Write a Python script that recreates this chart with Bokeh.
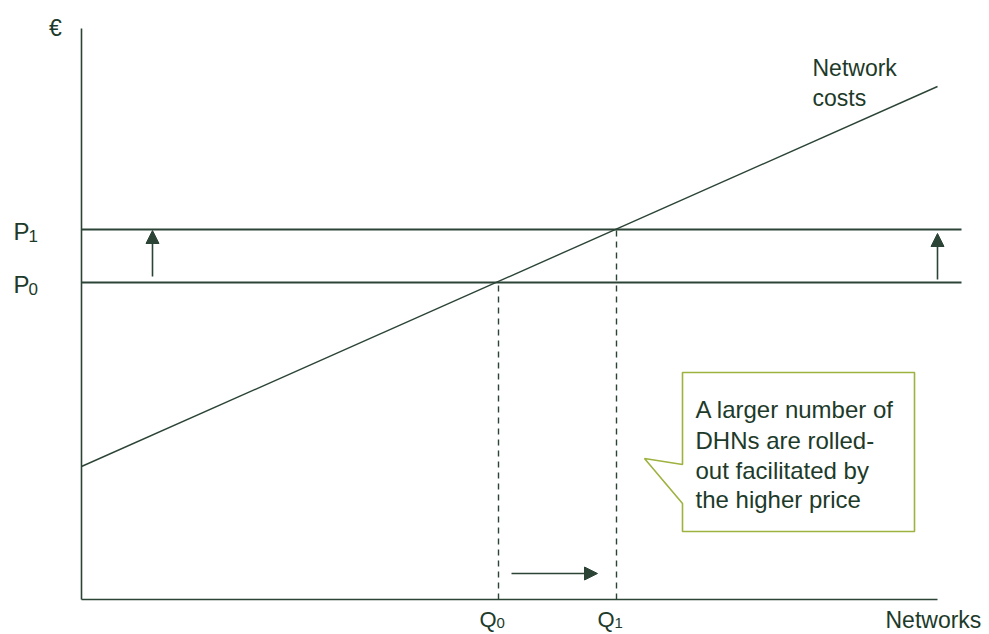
from bokeh.plotting import figure
from bokeh.models import Range1d, Arrow, NormalHead
from bokeh.core.properties import value
from bokeh.embed import file_html
from bokeh.resources import INLINE

# ---- data (conceptual units: origin at axes corner) ----
x_max = 856            # end of x axis
y_max = 571            # top of y axis
line_end = 880         # right end of price lines
cost_x = [0, 856]      # network costs curve
cost_y = [133, 513]
p_levels = [317, 370]  # P0, P1
p_labels = ["0", "1"]
q_levels = [417, 535]  # Q0, Q1
q_labels = ["0", "1"]
up_arrow_x = [71, 856]
up_arrow_y0 = [323, 320]
up_arrow_y1 = [369, 366]
right_arrow = (430, 516, 26)  # x0, x1, y
callout_x = [601, 833, 833, 601, 601, 563, 601]
callout_y = [227, 227, 68, 68, 96, 141, 135]
callout_lines = ["A larger number of", "DHNs are rolled-", "out facilitated by", "the higher price"]
callout_base = [190, 159, 129, 100]

LINE = "#2b4436"
TEXT = "#1d3a2a"
BOX = "#9db23f"
FONT = value("Liberation Sans")

p = figure(width=989, height=634, x_range=Range1d(-81, 908), y_range=Range1d(-35, 599),
           min_border=0, x_axis_location=None, y_axis_location=None,
           toolbar_location=None, output_backend="svg")
p.grid.visible = False
p.outline_line_color = None
p.background_fill_color = "white"

# axes
p.line([0, 0], [0, y_max], line_color=LINE, line_width=1.6)
p.line([0, x_max], [0, 0], line_color=LINE, line_width=1.6)

# price lines
for pl in p_levels:
    p.line([0, line_end], [pl, pl], line_color=LINE, line_width=1.8)

# network cost line
p.line(cost_x, cost_y, line_color=LINE, line_width=1.4)

# dashed quantity lines
for ql, pl in zip(q_levels, p_levels):
    p.line([ql, ql], [0, pl], line_color=LINE, line_width=1.4, line_dash="6 5")

# arrows
for ax, a0, a1 in zip(up_arrow_x, up_arrow_y0, up_arrow_y1):
    p.add_layout(Arrow(end=NormalHead(size=13, fill_color=LINE, line_color=LINE),
                       x_start=ax, y_start=a0, x_end=ax, y_end=a1,
                       line_color=LINE, line_width=1.6))
rx0, rx1, ry = right_arrow
p.add_layout(Arrow(end=NormalHead(size=13, fill_color=LINE, line_color=LINE),
                   x_start=rx0, y_start=ry, x_end=rx1, y_end=ry,
                   line_color=LINE, line_width=1.6))

# callout
p.patch(callout_x, callout_y, fill_color="white", line_color=BOX, line_width=1.6)
p.text(x=[614] * 4, y=callout_base, text=callout_lines, text_font=FONT,
       text_font_size="24px", text_color=TEXT, text_baseline="alphabetic")

# labels
p.text(x=[731, 731], y=[532, 502], text=["Network", "costs"], text_font=FONT,
       text_font_size="23px", text_color=TEXT, text_baseline="alphabetic")
p.text(x=[-26], y=[572], text=["€"], text_font=FONT, text_font_size="23px",
       text_color=TEXT, text_align="center", text_baseline="middle")
p.text(x=[-68, -68], y=[pl - 2 for pl in p_levels], text=["P", "P"], text_font=FONT,
       text_font_size="24px", text_color=TEXT, text_baseline="alphabetic")
p.text(x=[-53, -53], y=[pl - 6 for pl in p_levels], text=p_labels, text_font=FONT,
       text_font_size="17px", text_color=TEXT, text_baseline="alphabetic")
p.text(x=[q - 19 for q in q_levels], y=[-20, -20], text=["Q", "Q"], text_font=FONT,
       text_font_size="22px", text_color=TEXT, text_baseline="alphabetic")
p.text(x=[q - 2 for q in q_levels], y=[-23, -23], text=q_labels, text_font=FONT,
       text_font_size="15px", text_color=TEXT, text_baseline="alphabetic")
p.text(x=[804], y=[-20], text=["Networks"], text_font=FONT, text_font_size="23px",
       text_color=TEXT, text_baseline="alphabetic")

open("out.html", "w").write(file_html(p, INLINE))
